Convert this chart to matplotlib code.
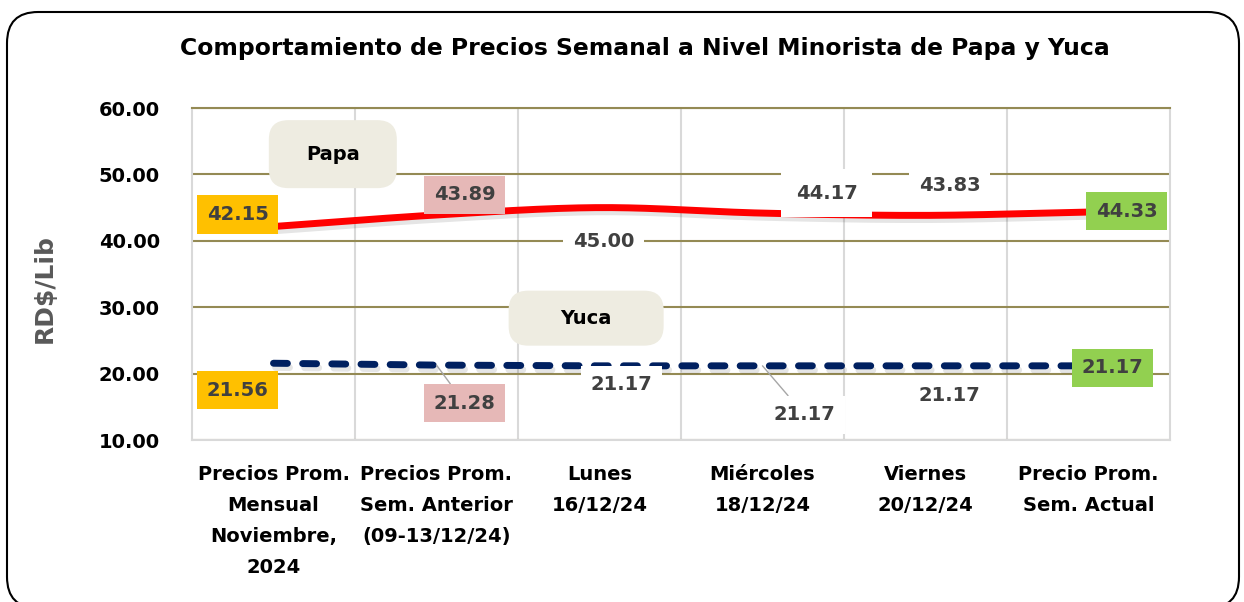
import numpy as np
import matplotlib
matplotlib.use('Agg')
import matplotlib.pyplot as plt
import matplotlib.patheffects as pe
from matplotlib.patches import FancyBboxPatch

# data
categories = ['Precios Prom.\nMensual\nNoviembre,\n2024',
              'Precios Prom.\nSem. Anterior\n(09-13/12/24)',
              'Lunes\n16/12/24',
              'Miércoles\n18/12/24',
              'Viernes\n20/12/24',
              'Precio Prom.\nSem. Actual']
papa = [42.15, 43.89, 45.00, 44.17, 43.83, 44.33]
yuca = [21.56, 21.28, 21.17, 21.17, 21.17, 21.17]
yticks = [10, 20, 30, 40, 50, 60]

# label styling (offsets in pixels from the point, box colour, padding, leader line)
box_colors = ['#FFC000', '#E6B8B7', 'white', 'white', 'white', '#92D050']
papa_off = [(-36, 12), (28, 20), (4, -34), (64, 20), (24, 30), (38, 1)]
papa_pad = [0.5, 0.5, 0.5, 0.75, 0.5, 0.5]
yuca_off = [(-36, -27), (28, -38), (22, -19), (42, -49), (24, -30), (24, -2)]
yuca_leader = [False, True, False, True, False, False]


def smooth(x, y, n=40):
    # Catmull-Rom style smoothing, like Excel's "smoothed line"
    x = np.asarray(x, float)
    y = np.asarray(y, float)
    px = np.concatenate([[2 * x[0] - x[1]], x, [2 * x[-1] - x[-2]]])
    py = np.concatenate([[2 * y[0] - y[1]], y, [2 * y[-1] - y[-2]]])
    xs, ys = [], []
    t = np.linspace(0, 1, n)
    for i in range(1, len(px) - 2):
        for p, out in ((px, xs), (py, ys)):
            p0, p1, p2, p3 = p[i - 1], p[i], p[i + 1], p[i + 2]
            out.append(0.5 * ((2 * p1) + (-p0 + p2) * t
                              + (2 * p0 - 5 * p1 + 4 * p2 - p3) * t ** 2
                              + (-p0 + 3 * p1 - 3 * p2 + p3) * t ** 3))
    return np.concatenate(xs), np.concatenate(ys)


plt.rcParams['font.family'] = ['DejaVu Sans']
plt.rcParams['font.weight'] = 'bold'

fig = plt.figure(figsize=(12.44, 6.02), dpi=100)

border = FancyBboxPatch((7 / 1244, -0.01), 1232 / 1244, 1 - 12 / 602 + 0.01,
                        boxstyle='round,pad=0,rounding_size=0.025',
                        transform=fig.transFigure, fc='none', ec='black',
                        lw=1.5, mutation_aspect=2.07, zorder=0)
fig.patches.append(border)

ax = fig.add_axes([192 / 1244, 162 / 602, 978 / 1244, 332 / 602])
x = np.arange(len(categories))

olive = '#948A54'
ax.set_xlim(-0.5, 5.5)
ax.set_ylim(10, 60)
ax.set_yticks(yticks)
ax.set_yticklabels(['%.2f' % v for v in yticks])
ax.set_xticks(x)
ax.set_xticklabels(categories, linespacing=1.8)
ax.set_xticks(x[:-1] + 0.5, minor=True)
ax.tick_params(axis='x', which='both', length=0, pad=18, labelsize=14)
ax.tick_params(axis='y', length=0, pad=23, labelsize=14)
ax.yaxis.grid(True, color=olive, lw=1.5)
ax.xaxis.grid(True, which='minor', color='#D9D9D9', lw=1.5)
for s in ['left', 'right', 'bottom']:
    ax.spines[s].set_color('#D9D9D9')
    ax.spines[s].set_linewidth(1.5)
ax.spines['top'].set_color(olive)
ax.spines['top'].set_linewidth(1.5)
ax.set_axisbelow(True)

shadow = [pe.SimpleLineShadow(offset=(1.5, -3), shadow_color='black', alpha=0.1), pe.Normal()]

sx, sy = smooth(x, papa)
ax.plot(sx, sy, color='#FF0000', lw=5, solid_capstyle='butt', path_effects=shadow, zorder=2)
ax.plot(x, yuca, color='#002060', lw=5, dashes=(2, 2.2), dash_capstyle='round',
        path_effects=shadow, zorder=2)

for i in range(len(x)):
    ax.annotate('%.2f' % papa[i], (x[i], papa[i]), xytext=papa_off[i],
                textcoords='offset pixels', ha='center', va='center',
                fontsize=14, color='#404040',
                bbox=dict(boxstyle='square,pad=%.2f' % papa_pad[i], fc=box_colors[i], ec='none'))
    arrow = dict(arrowstyle='-', color='#A6A6A6', lw=1, shrinkA=0, shrinkB=0) if yuca_leader[i] else None
    ax.annotate('%.2f' % yuca[i], (x[i], yuca[i]), xytext=yuca_off[i],
                textcoords='offset pixels', ha='center', va='center',
                fontsize=14, color='#404040', arrowprops=arrow,
                bbox=dict(boxstyle='square,pad=0.5', fc=box_colors[i], ec='none'))

# series name boxes
for name, cx, cy, w, h in [('Papa', 0.144, 0.861, 128 / 978, 68 / 332),
                           ('Yuca', 0.403, 0.367, 155 / 978, 55 / 332)]:
    ax.add_patch(FancyBboxPatch((cx - w / 2, cy - h / 2), w, h,
                                boxstyle='round,pad=0,rounding_size=0.02',
                                mutation_aspect=2.9, transform=ax.transAxes,
                                fc='#EEECE1', ec='none', zorder=3))
    ax.text(cx, cy, name, transform=ax.transAxes, ha='center', va='center',
            fontsize=14, color='black', zorder=4)

fig.text(645 / 1244, 1 - 48 / 602, 'Comportamiento de Precios Semanal a Nivel Minorista de Papa y Yuca',
         ha='center', va='center', fontsize=16.9, color='black')
fig.text(45 / 1244, 1 - 289 / 602, 'RD$/Lib', rotation=90, ha='center', va='center',
         fontsize=18, color='#595959')

plt.savefig('out.png', dpi=100)
